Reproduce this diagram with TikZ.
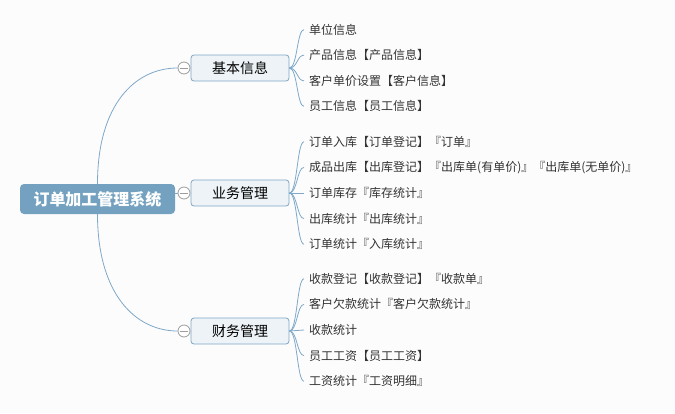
\documentclass[tikz,border=0pt]{standalone}
\usepackage{fontspec}
\newfontfamily\cjk{Noto Sans CJK SC}
\usetikzlibrary{positioning}

\definecolor{bg}{HTML}{FCFCFC}
\definecolor{rootblue}{HTML}{73A1BF}
\definecolor{linkblue}{HTML}{7FA9C9}
\definecolor{boxfill}{HTML}{EEF3F7}
\definecolor{boxline}{HTML}{7DA6C6}
\definecolor{togglegray}{HTML}{9C9C9C}
\definecolor{leaftext}{HTML}{333333}

\begin{document}
\begin{tikzpicture}[x = 1pt, y = -1pt, font = \cjk,
	link/.style = {draw = linkblue, line width = 0.8pt},
	rootbox/.style = {fill = rootblue, text = white, rounded corners = 4pt, minimum width = 155pt, minimum height = 30pt, font = \cjk\fontsize{16}{18}\selectfont\bfseries},
	branchbox/.style = {draw = boxline, fill = boxfill, line width = 0.8pt, rounded corners = 3pt, minimum width = 98pt, minimum height = 26pt, font = \cjk\fontsize{14}{16}\selectfont},
	toggle/.style = {circle, draw = togglegray, fill = white, line width = 0.8pt, minimum size = 12pt, inner sep = 0pt,
		path picture = {\draw [togglegray, line width = 0.8pt] ([xshift = 2pt] path picture bounding box.west) -- ([xshift = -2pt] path picture bounding box.east);}},
	leaf/.style = {anchor = west, inner xsep = 5pt, inner ysep = 2pt, text = leaftext, font = \cjk\fontsize{12}{14}\selectfont}]

	% Definition

	\def\gap{25.6}

	% Background

	\fill [bg] (0, 0) rectangle (675, 413);
	\useasboundingbox (0, 0) rectangle (675, 413);

	% Root and branches

	\node [rootbox] (root) at (97.5, 199) {订单加工管理系统};

	\node [branchbox] (basic) at (240, 68) {基本信息};
	\node [branchbox] (business) at (240, 193) {业务管理};
	\node [branchbox] (finance) at (240, 331) {财务管理};

	% Links from the root

	\node [toggle] (basicT) at (184, 68) {};
	\node [toggle] (businessT) at (184, 193) {};
	\node [toggle] (financeT) at (184, 331) {};

	\draw [link] (root.north) .. controls +(0, -80) and +(-42, 0) .. (basicT.west);
	\draw [link] (root.east |- businessT) -- (businessT.west);
	\draw [link] (root.south) .. controls +(0, 80) and +(-42, 0) .. (financeT.west);

	% Leaves

	\foreach \txt [count = \i] in {单位信息, 产品信息【产品信息】, 客户单价设置【客户信息】, 员工信息【员工信息】}
	{
		\node [leaf] (basic-\i) at (304, 68 + \gap * \i - 2.5 * \gap) {\txt};
		\draw [link] (basic.east) .. controls +(8, 0) and +(-7, 0) .. (basic-\i.west);
	}

	\foreach \txt [count = \i] in {订单入库【订单登记】『订单』, 成品出库【出库登记】『出库单(有单价)』『出库单(无单价)』, 订单库存『库存统计』, 出库统计『出库统计』, 订单统计『入库统计』}
	{
		\node [leaf] (business-\i) at (304, 193 + \gap * \i - 3 * \gap) {\txt};
		\draw [link] (business.east) .. controls +(8, 0) and +(-7, 0) .. (business-\i.west);
	}

	\foreach \txt [count = \i] in {收款登记【收款登记】『收款单』, 客户欠款统计『客户欠款统计』, 收款统计, 员工工资【员工工资】, 工资统计『工资明细』}
	{
		\node [leaf] (finance-\i) at (304, 330 + \gap * \i - 3 * \gap) {\txt};
		\draw [link] (finance.east) .. controls +(8, 0) and +(-7, 0) .. (finance-\i.west);
	}

\end{tikzpicture}
\end{document}
